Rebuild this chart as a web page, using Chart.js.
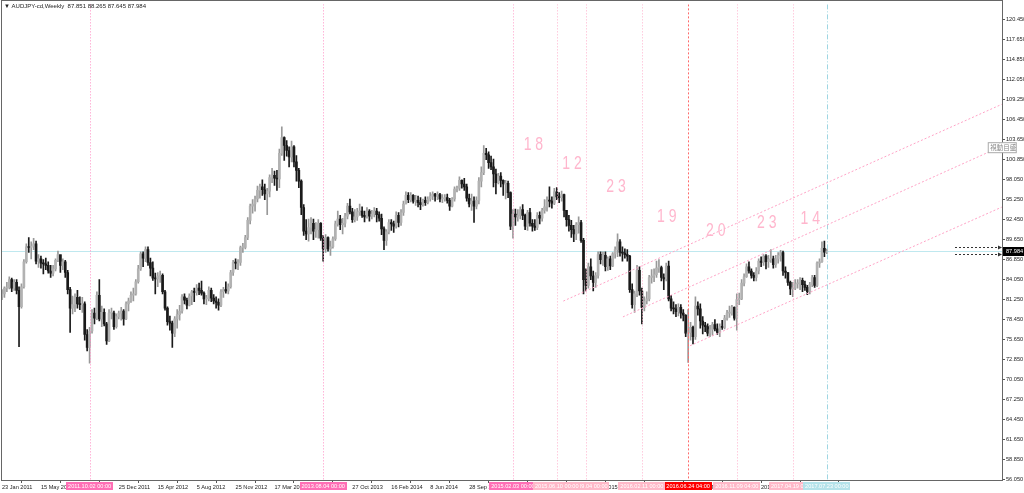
<!DOCTYPE html>
<html>
<head>
<meta charset="utf-8">
<title>AUDJPY-cd,Weekly</title>
<script src="https://cdn.jsdelivr.net/npm/chart.js@4.4.1/dist/chart.umd.min.js"></script>
<style>
  html, body { margin: 0; padding: 0; background: #fff; overflow: hidden; }
</style>
</head>
<body>
<canvas id="chart" width="1024" height="493"></canvas>
<script>
// AUDJPY-cd weekly bars, week 0 = 23 Jan 2011 ... week 339 = 23 Jul 2017
const firstOpen = 81.6;
const closes = [
  82.0, 82.8, 82.9, 84.0, 82.8, 83.6, 82.5, 80.2, 83.0, 86.5,
  88.6, 88.5, 88.7, 89.0, 86.6, 86.9, 86.3, 86.2, 86.0, 85.2,
  84.9, 85.5, 86.7, 87.5, 86.0, 86.5, 85.0, 82.6, 80.0, 80.5,
  81.5, 80.6, 80.5, 80.6, 76.3, 74.5, 76.8, 79.3, 78.6, 81.8,
  78.5, 79.4, 77.8, 75.4, 79.3, 79.3, 77.4, 78.8, 79.3, 79.6,
  78.5, 80.6, 81.0, 81.8, 82.0, 83.7, 85.5, 87.6, 87.0, 88.2,
  86.4, 85.6, 84.2, 84.1, 84.5, 84.6, 82.3, 80.0, 78.1, 77.9,
  76.5, 78.5, 79.1, 79.6, 81.6, 81.1, 80.4, 81.7, 82.3, 82.2,
  82.8, 82.5, 82.1, 81.3, 81.3, 82.5, 81.4, 81.0, 80.8, 80.4,
  82.3, 82.6, 82.4, 83.0, 85.0, 86.4, 86.3, 86.4, 88.5, 88.5,
  89.9, 92.3, 94.3, 94.6, 95.3, 96.5, 97.0, 96.6, 96.0, 96.4,
  98.3, 98.6, 98.2, 98.1, 101.7, 103.9, 102.8, 102.1, 101.2, 102.6,
  100.5, 99.3, 97.8, 94.1, 90.8, 90.4, 91.3, 91.9, 90.8, 91.0,
  91.9, 89.8, 88.3, 89.9, 88.3, 88.6, 89.7, 91.8, 92.5, 91.7,
  91.9, 92.9, 94.3, 93.5, 92.4, 92.8, 93.5, 93.6, 93.0, 92.8,
  93.6, 92.9, 93.2, 93.6, 93.1, 92.6, 91.1, 89.5, 90.7, 92.0,
  91.8, 91.5, 93.0, 92.0, 93.4, 94.6, 95.8, 95.2, 95.8, 95.0,
  95.1, 94.8, 94.5, 95.1, 94.8, 95.3, 95.7, 96.0, 95.7, 95.9,
  95.3, 95.3, 95.5, 95.1, 94.3, 95.3, 96.7, 96.8, 97.9, 97.4,
  97.0, 95.4, 94.6, 95.0, 94.3, 95.1, 97.8, 99.0, 101.7, 101.5,
  100.4, 99.8, 98.8, 97.6, 98.5, 97.9, 97.4, 97.5, 96.2, 91.5,
  93.2, 92.8, 93.0, 93.8, 93.0, 91.5, 93.4, 91.9, 91.5, 91.3,
  93.0, 92.6, 93.7, 94.2, 95.1, 95.0, 94.7, 96.3, 95.6, 95.5,
  95.9, 93.7, 92.4, 91.6, 91.0, 90.4, 91.7, 92.0, 89.5, 84.0,
  83.2, 85.8, 84.5, 83.6, 84.6, 87.5, 86.8, 87.4, 85.8, 86.9,
  85.9, 87.6, 88.2, 89.3, 87.8, 87.7, 87.5, 87.3, 82.6, 80.5,
  82.0, 85.3, 82.4, 80.1, 81.0, 81.3, 84.3, 84.5, 84.7, 85.6,
  85.7, 84.3, 84.1, 85.9, 81.3, 80.0, 79.9, 79.5, 80.1, 79.3,
  79.0, 76.5, 76.6, 77.3, 76.0, 80.3, 79.9, 78.2, 77.6, 77.4,
  76.5, 77.0, 77.7, 77.1, 76.6, 77.4, 77.3, 78.6, 79.3, 79.3,
  80.1, 78.6, 81.2, 81.3, 83.5, 84.4, 85.8, 85.2, 84.6, 84.3,
  85.2, 86.6, 86.4, 87.3, 86.5, 86.8, 86.9, 86.1, 86.9, 87.4,
  87.8, 85.2, 85.0, 83.6, 82.7, 82.8, 83.4, 83.4, 83.9, 83.3,
  82.9, 82.3, 83.3, 84.3, 83.2, 86.3, 86.5, 88.4, 87.851, 87.984
];
const highs = [
  82.6, 83.0, 83.6, 84.4, 84.2, 84.0, 84.0, 83.0, 83.4, 86.8,
  89.0, 89.9, 89.3, 89.8, 89.4, 87.5, 87.3, 86.8, 87.0, 86.5,
  86.0, 86.0, 86.9, 88.0, 87.4, 86.9, 86.7, 85.3, 82.9, 81.7,
  82.0, 82.5, 81.6, 81.5, 80.9, 77.0, 77.3, 79.8, 80.0, 82.3,
  84.0, 80.3, 79.9, 78.0, 79.8, 80.0, 79.6, 79.2, 79.6, 80.1,
  79.8, 80.9, 81.4, 82.3, 82.8, 84.0, 86.0, 87.9, 87.9, 88.6,
  88.6, 87.0, 86.5, 84.9, 85.0, 85.2, 84.8, 82.5, 80.2, 78.9,
  78.2, 78.8, 79.8, 80.4, 81.9, 82.0, 81.4, 82.0, 82.5, 82.8,
  83.3, 83.5, 83.8, 82.3, 81.8, 83.0, 82.8, 81.9, 81.6, 81.3,
  82.6, 82.9, 83.7, 83.4, 85.3, 86.7, 86.9, 86.8, 88.7, 89.1,
  90.2, 92.7, 94.6, 95.2, 95.7, 97.1, 97.4, 98.0, 97.4, 96.8,
  98.7, 99.6, 99.2, 99.3, 102.3, 105.4, 104.0, 103.5, 102.6, 103.4,
  102.8, 101.4, 99.6, 98.0, 94.5, 92.4, 92.5, 92.7, 92.5, 92.0,
  92.4, 92.0, 90.2, 90.3, 90.0, 89.4, 90.0, 92.2, 93.6, 93.0,
  92.6, 93.3, 94.7, 95.3, 94.0, 93.8, 94.0, 94.6, 94.2, 93.6,
  94.1, 93.8, 93.7, 94.1, 94.0, 93.5, 93.2, 91.4, 91.0, 92.4,
  92.4, 92.2, 93.5, 93.4, 93.8, 95.0, 96.3, 96.2, 96.2, 95.9,
  95.8, 95.7, 95.5, 95.3, 95.6, 95.6, 96.2, 96.3, 96.1, 96.3,
  96.1, 95.9, 95.9, 96.0, 95.4, 95.5, 97.0, 97.1, 98.4, 98.0,
  98.2, 97.4, 96.0, 96.0, 95.6, 95.6, 98.3, 99.8, 102.8, 102.4,
  101.9, 101.3, 100.9, 99.5, 98.9, 99.0, 98.0, 97.9, 97.8, 96.3,
  93.8, 93.9, 93.8, 94.2, 94.5, 93.2, 93.7, 94.0, 92.4, 92.4,
  93.4, 93.5, 94.0, 95.2, 95.6, 97.0, 95.6, 96.8, 96.9, 96.2,
  96.4, 96.0, 93.7, 93.0, 92.3, 91.6, 92.0, 92.8, 92.3, 89.8,
  85.5, 86.3, 86.9, 85.2, 85.0, 87.9, 87.9, 87.9, 87.9, 87.2,
  87.3, 87.8, 88.6, 90.4, 89.6, 88.6, 88.3, 88.2, 87.4, 83.4,
  82.4, 86.0, 85.8, 82.8, 81.6, 82.3, 84.6, 85.4, 85.5, 86.6,
  86.8, 85.9, 84.8, 86.3, 86.6, 81.8, 80.9, 80.5, 80.6, 80.5,
  79.8, 79.1, 79.8, 78.0, 77.5, 81.6, 80.9, 80.6, 78.8, 78.0,
  77.8, 77.6, 78.0, 78.4, 77.8, 77.8, 78.3, 79.0, 79.7, 80.3,
  80.4, 80.2, 82.0, 82.1, 84.0, 84.8, 86.2, 86.5, 85.5, 85.0,
  85.7, 86.9, 87.2, 87.5, 87.5, 87.4, 88.2, 87.3, 87.4, 87.8,
  88.1, 88.0, 85.8, 85.0, 83.8, 83.6, 84.0, 84.0, 84.3, 84.2,
  83.8, 83.2, 83.6, 84.6, 84.6, 86.5, 86.9, 89.3, 89.4, 88.265
];
const lows = [
  81.2, 81.5, 82.3, 82.7, 82.3, 82.5, 82.0, 74.6, 80.0, 82.8,
  86.3, 87.8, 86.9, 88.2, 86.2, 85.7, 85.6, 84.8, 85.4, 84.9,
  84.3, 84.5, 85.2, 86.5, 85.0, 85.4, 84.3, 82.0, 76.6, 79.2,
  79.5, 80.0, 79.8, 79.4, 75.5, 74.0, 72.3, 76.5, 77.8, 78.4,
  78.2, 77.4, 77.5, 74.9, 75.3, 78.5, 77.0, 77.2, 78.5, 78.3,
  77.6, 78.4, 79.6, 80.8, 81.0, 81.8, 83.5, 85.3, 85.8, 86.5,
  86.0, 84.5, 83.9, 82.0, 83.0, 83.6, 82.0, 79.7, 77.6, 76.9,
  74.5, 76.0, 77.2, 78.3, 79.3, 80.6, 79.9, 80.3, 80.5, 80.9,
  81.8, 81.9, 81.8, 80.6, 80.5, 81.0, 80.9, 80.6, 80.0, 79.7,
  80.2, 81.5, 82.1, 82.0, 82.8, 84.6, 85.5, 85.4, 86.0, 87.8,
  88.3, 89.6, 91.8, 93.3, 93.6, 94.9, 95.4, 95.8, 95.2, 93.1,
  95.6, 97.6, 97.2, 96.5, 96.9, 101.4, 100.7, 101.3, 99.8, 100.5,
  99.8, 97.8, 96.9, 93.1, 90.2, 89.6, 89.4, 90.4, 89.6, 89.9,
  89.8, 89.5, 86.6, 87.8, 88.0, 87.4, 88.4, 89.5, 91.5, 91.0,
  90.4, 91.4, 92.5, 93.2, 92.0, 92.1, 92.3, 93.0, 92.7, 92.1,
  92.6, 92.2, 92.5, 92.8, 92.1, 92.2, 90.3, 88.2, 88.8, 90.4,
  90.9, 90.6, 91.2, 91.4, 91.6, 93.0, 94.6, 94.8, 94.9, 94.7,
  94.4, 94.2, 93.8, 94.3, 94.4, 94.6, 95.0, 95.2, 95.0, 95.2,
  94.9, 94.8, 95.0, 94.7, 93.7, 94.2, 95.0, 96.3, 96.5, 96.8,
  96.5, 95.0, 94.2, 93.7, 92.0, 93.9, 94.6, 97.0, 98.7, 100.8,
  99.6, 99.4, 97.0, 96.0, 97.4, 97.0, 95.8, 95.3, 95.5, 91.0,
  89.8, 91.6, 92.2, 92.5, 92.4, 91.0, 90.9, 91.5, 90.8, 90.9,
  91.0, 91.8, 92.2, 93.3, 93.6, 94.2, 94.0, 94.5, 95.2, 94.8,
  95.0, 92.8, 91.5, 90.8, 89.9, 89.3, 89.6, 90.5, 89.2, 82.0,
  82.4, 82.8, 84.0, 82.4, 82.9, 84.2, 86.2, 86.0, 85.2, 85.3,
  85.4, 85.8, 87.0, 87.2, 87.3, 86.6, 87.0, 86.6, 82.2, 80.0,
  79.4, 81.6, 81.8, 77.8, 79.6, 80.6, 81.0, 83.5, 83.7, 84.3,
  85.0, 83.8, 82.6, 83.8, 81.0, 79.6, 79.2, 78.8, 78.9, 78.6,
  78.2, 76.0, 72.4, 75.5, 75.0, 75.6, 79.0, 77.2, 76.4, 76.7,
  76.1, 76.0, 76.2, 76.8, 76.3, 76.0, 77.0, 77.1, 78.3, 78.7,
  79.0, 78.3, 76.9, 80.5, 81.2, 83.1, 84.3, 84.9, 84.2, 83.8,
  83.8, 84.8, 85.8, 86.0, 85.5, 85.7, 86.4, 85.6, 85.7, 86.3,
  86.6, 84.6, 84.2, 83.2, 81.9, 81.6, 82.6, 82.8, 82.6, 82.3,
  82.5, 81.9, 82.0, 83.0, 82.9, 83.0, 85.7, 86.4, 87.2, 87.645
];

// axis labels
const TICK_EVERY = 16; // one date label every 16 weeks
const dateTicks = [
  '23 Jan 2011', '15 May 2011', '4 Sep 2011', '25 Dec 2011', '15 Apr 2012', '5 Aug 2012',
  '25 Nov 2012', '17 Mar 2013', '7 Jul 2013', '27 Oct 2013', '16 Feb 2014', '8 Jun 2014',
  '28 Sep 2014', '18 Jan 2015', '10 May 2015', '30 Aug 2015', '20 Dec 2015', '10 Apr 2016',
  '31 Jul 2016', '20 Nov 2016', '12 Mar 2017', '2 Jul 2017'
];
const priceTicks = [
  56.05, 58.85, 61.65, 64.45, 67.25, 70.05, 72.85, 75.65, 78.45, 81.25, 84.05, 86.85,
  89.65, 92.45, 95.25, 98.05, 100.85, 103.65, 106.45, 109.25, 112.05, 114.85, 117.65, 120.45
];

// vertical date lines (week index + label), drawn in this order
const markerWeeks = [36, 132, 210, 240, 228, 263, 282, 302, 325, 339];
const markerTexts = ['2011.10.02 00:00', '2013.08.04 00:00', '2015.02.03 00:00', '2015.09.04 00:00',
  '2015.06.10 00:00', '2016.02.11 00:00', '2016.06.24 04:00', '2016.11.09 04:00',
  '2017.04.19 00:00', '2017.07.23 00:00'];
const markerBox = ['#ff6fb5', '#ff6fb5', '#ff6fb5', '#ffb8c8', '#ffb8c8', '#ffb8c8', '#ff0000', '#ffb8c8', '#ffb8c8', '#b4e2ea'];
const markerLine = ['#ff8ec4', '#ff8ec4', '#ff9ec9', '#ffb0cc', '#ffb0cc', '#ffb0cc', '#ff6a6a', '#ffb0cc', '#ffb0cc', '#9fd6e2'];

// weeks between the date lines, written on the chart
const cycleCounts = [18, 12, 23, 19, 20, 23, 14];
const cycleWeek = [218.4, 234.3, 252.4, 273.2, 293.4, 314.3, 332.2];
const cyclePrice = [102.9, 100.16, 96.98, 92.7, 90.84, 91.95, 92.45];

// rising channel (3 parallel trend lines)
const channelStartWeek = [230.7, 255.2, 282.8];
const channelStartPrice = [80.99, 78.77, 74.73];
const CHANNEL_END_WEEK = 410.9;
const channelEndPrice = [108.57, 102.70, 94.16];

const levelPrices = [88.50, 87.53];

const SLOTS = 412;
const Y_MIN = 55.91, Y_MAX = 122.58;

const opens = closes.map((c, i) => i === 0 ? firstOpen : closes[i - 1]);
const isUp = closes.map((c, i) => c >= opens[i]);
const slots = Array.from({ length: SLOTS }, (_, i) => i);
const last = closes.length - 1;

Chart.defaults.font.family = '"Liberation Sans", Arial, sans-serif';
Chart.defaults.font.size = 5.6;
Chart.defaults.color = '#222';

const overlay = {
  id: 'overlay',
  beforeDatasetsDraw(chart) {
    const { ctx, chartArea: a, scales: { y } } = chart;
    const yb = Math.round(y.getPixelForValue(closes[last])) + 0.5;
    ctx.save();
    ctx.strokeStyle = '#bfe8ef';
    ctx.lineWidth = 1;
    ctx.beginPath(); ctx.moveTo(a.left, yb); ctx.lineTo(a.right, yb); ctx.stroke();
    ctx.restore();
  },
  afterDatasetsDraw(chart) {
    const { ctx, chartArea: a, scales: { x, y } } = chart;
    ctx.save();
    ctx.beginPath(); ctx.rect(a.left, a.top, a.right - a.left, a.bottom - a.top); ctx.clip();
    ctx.lineWidth = 1;
    // date lines
    markerWeeks.forEach((w, k) => {
      const px = Math.round(x.getPixelForValue(w)) + 0.5;
      ctx.strokeStyle = markerLine[k];
      ctx.setLineDash(k === 6 ? [2, 2] : (k === 9 ? [5, 2, 1, 2] : [1, 2]));
      ctx.beginPath(); ctx.moveTo(px, a.top); ctx.lineTo(px, a.bottom); ctx.stroke();
    });
    // channel lines
    ctx.strokeStyle = '#ffa3c6';
    ctx.setLineDash([2, 2]);
    channelStartWeek.forEach((w, k) => {
      ctx.beginPath();
      ctx.moveTo(x.getPixelForValue(w), y.getPixelForValue(channelStartPrice[k]));
      ctx.lineTo(x.getPixelForValue(CHANNEL_END_WEEK), y.getPixelForValue(channelEndPrice[k]));
      ctx.stroke();
    });
    // level arrows near the right edge
    ctx.strokeStyle = '#333';
    ctx.fillStyle = '#333';
    ctx.setLineDash([2, 2]);
    levelPrices.forEach(p => {
      const yy = Math.round(y.getPixelForValue(p)) + 0.5;
      ctx.beginPath(); ctx.moveTo(a.right - 47, yy); ctx.lineTo(a.right - 4, yy); ctx.stroke();
      ctx.beginPath(); ctx.moveTo(a.right - 4, yy - 2); ctx.lineTo(a.right, yy); ctx.lineTo(a.right - 4, yy + 2); ctx.fill();
    });
    ctx.setLineDash([]);
    // cycle counts (hand-written look: thin, condensed)
    ctx.fillStyle = '#ffb6cd';
    ctx.font = '18px "Liberation Sans", sans-serif';
    ctx.textAlign = 'center';
    ctx.textBaseline = 'middle';
    cycleCounts.forEach((n, k) => {
      ctx.save();
      ctx.translate(x.getPixelForValue(cycleWeek[k]), y.getPixelForValue(cyclePrice[k]));
      ctx.scale(0.78, 1);
      ctx.fillText(String(n).split('').join(' '), 0, 0);
      ctx.restore();
    });
    ctx.restore();
  },
  afterDraw(chart) {
    const { ctx, chartArea: a, scales: { x, y } } = chart;
    ctx.save();
    // frame
    ctx.strokeStyle = '#666';
    ctx.lineWidth = 1;
    ctx.strokeRect(Math.round(a.left) - 0.5, 0.5, Math.round(a.right) - Math.round(a.left) + 1, Math.round(a.bottom));
    // date line labels on the time axis
    ctx.font = '5.6px "Liberation Sans", sans-serif';
    ctx.textBaseline = 'middle';
    ctx.textAlign = 'center';
    markerWeeks.forEach((w, k) => {
      const cx = x.getPixelForValue(w);
      const bw = 47;
      ctx.fillStyle = markerBox[k];
      ctx.fillRect(Math.round(cx - bw / 2), 482, bw, 8);
      ctx.fillStyle = '#fff';
      ctx.fillText(markerTexts[k], cx, 486.5);
    });
    // current price on the price axis
    const yb = Math.round(y.getPixelForValue(closes[last]));
    ctx.fillStyle = '#000';
    ctx.fillRect(Math.round(a.right) + 1, yb - 4, 22, 9);
    ctx.fillStyle = '#fff';
    ctx.textAlign = 'left';
    ctx.fillText(closes[last].toFixed(3), Math.round(a.right) + 4, yb + 0.5);
    // label at the end of the middle channel line
    const ex = x.getPixelForValue(CHANNEL_END_WEEK), ey = y.getPixelForValue(channelEndPrice[1]);
    ctx.fillStyle = '#fff';
    ctx.fillRect(ex - 13.5, ey - 3.5, 28, 10);
    ctx.strokeStyle = '#aaa';
    ctx.strokeRect(ex - 13.5, ey - 3.5, 28, 10);
    ctx.fillStyle = '#888';
    ctx.font = '6.5px "Noto Sans CJK JP", sans-serif';
    ctx.fillText('視動目盛', ex - 11.5, ey + 1.5);
    // title
    ctx.fillStyle = '#222';
    ctx.font = '6px "Liberation Sans", "DejaVu Sans", sans-serif';
    const title = '\u25BC AUDJPY-cd,Weekly  ' + [opens[last], highs[last], lows[last], closes[last]].map(v => v.toFixed(3)).join(' ');
    ctx.fillText(title, 4, 6.5);
    ctx.restore();
  }
};

new Chart(document.getElementById('chart'), {
  type: 'bar',
  data: {
    labels: slots,
    datasets: [
      {
        label: 'body',
        data: closes.map((c, i) => [opens[i], c]),
        backgroundColor: isUp.map(u => u ? '#b2b2b2' : '#1a1a1a'),
        barThickness: 2, minBarLength: 1, grouped: false, order: 1
      },
      {
        label: 'wick',
        data: closes.map((c, i) => [lows[i], highs[i]]),
        backgroundColor: isUp.map(u => u ? '#999' : '#1a1a1a'),
        barThickness: 1, grouped: false, order: 2
      }
    ]
  },
  options: {
    responsive: false,
    animation: false,
    events: [],
    layout: { padding: { left: 2, top: 1, right: 0, bottom: 0 } },
    plugins: { legend: { display: false }, tooltip: { enabled: false } },
    scales: {
      x: {
        type: 'category',
        offset: false,
        grid: { drawOnChartArea: false, tickLength: 3, color: '#555' },
        border: { display: false },
        ticks: { autoSkip: false, maxRotation: 0, minRotation: 0, align: 'start', padding: 1,
          callback: v => dateTicks[v / TICK_EVERY] },
        afterBuildTicks: s => { s.ticks = dateTicks.map((_, k) => ({ value: k * TICK_EVERY })); },
        afterFit: s => { s.height = 13; }
      },
      y: {
        position: 'right',
        min: Y_MIN,
        max: Y_MAX,
        grid: { drawOnChartArea: false, tickLength: 3, color: '#555' },
        border: { display: false },
        ticks: { padding: 1, callback: v => Number(v).toFixed(3) },
        afterBuildTicks: s => { s.ticks = priceTicks.map(v => ({ value: v })); },
        afterFit: s => { s.width = 22; }
      }
    }
  },
  plugins: [overlay]
});
</script>
</body>
</html>
